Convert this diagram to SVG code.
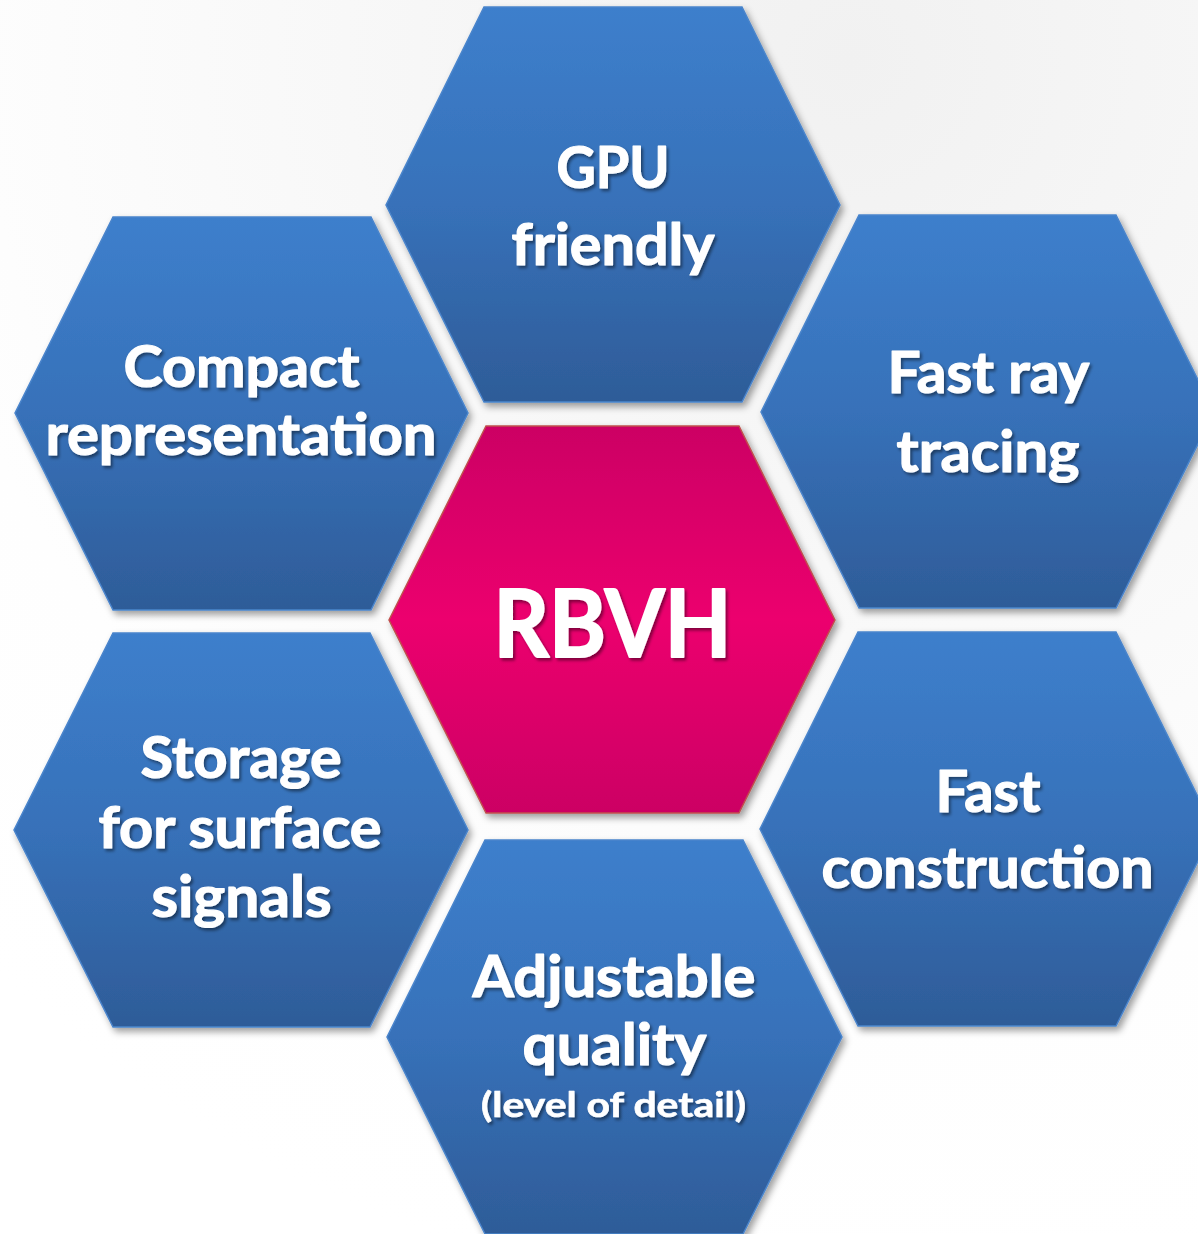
<svg xmlns="http://www.w3.org/2000/svg" width="1198" height="1234" viewBox="0 0 1198 1234">
  <defs>
    <radialGradient id="bg" cx="850" cy="60" r="1250" gradientUnits="userSpaceOnUse">
      <stop offset="0" stop-color="#f1f1f1"/>
      <stop offset="0.75" stop-color="#fefefe"/>
      <stop offset="1" stop-color="#ffffff"/>
    </radialGradient>
    <linearGradient id="blue" x1="0" y1="0" x2="0" y2="1">
      <stop offset="0" stop-color="#3d7fcc"/>
      <stop offset="0.5" stop-color="#3771b9"/>
      <stop offset="1" stop-color="#2e5c98"/>
    </linearGradient>
    <linearGradient id="pink" x1="0" y1="0" x2="0" y2="1">
      <stop offset="0" stop-color="#cc0064"/>
      <stop offset="0.5" stop-color="#ec006e"/>
      <stop offset="1" stop-color="#cc0064"/>
    </linearGradient>
    <filter id="shadow" x="-10%" y="-10%" width="125%" height="125%">
      <feDropShadow dx="3" dy="4" stdDeviation="3.5" flood-color="#000" flood-opacity="0.38"/>
    </filter>
    <filter id="tshadow" x="-10%" y="-20%" width="120%" height="150%">
      <feDropShadow dx="2" dy="2.5" stdDeviation="1.5" flood-color="#000" flood-opacity="0.45"/>
    </filter>
  </defs>
  <style>
    .hex { fill: url(#blue); stroke: #4a85cc; stroke-width: 1.5; filter: url(#shadow); }
    .center { fill: url(#pink); stroke: #c0504d; stroke-width: 1.5; filter: url(#shadow); }
    .lbl { font-family: Lato, "Open Sans", "Liberation Sans", sans-serif; font-weight: bold; fill: #ffffff; stroke: #ffffff; stroke-width: 1.2px; stroke-linejoin: round; text-anchor: middle; font-size: 58px; filter: url(#tshadow); }
    .big { font-size: 94px; stroke-width: 2px; }
    .small { font-size: 34px; stroke-width: 0.6px; }
  </style>
  <rect x="0" y="0" width="1198" height="1234" fill="url(#bg)"/>
  <g id="connectors"/>
  <g id="node-gpu">
    <polygon class="hex" points="484,7 742,7 840,205 742,402 484,402 386,205"/>
    <text class="lbl" x="613" y="188" textLength="113" lengthAdjust="spacingAndGlyphs">GPU</text>
    <text class="lbl" x="613" y="265" textLength="203" lengthAdjust="spacingAndGlyphs">friendly</text>
  </g>
  <g id="node-compact">
    <polygon class="hex" points="113,217 371,217 468,413 371,610 113,610 15,413"/>
    <text class="lbl" x="241.5" y="387" textLength="236" lengthAdjust="spacingAndGlyphs">Compact</text>
    <text class="lbl" x="241" y="455" textLength="391" lengthAdjust="spacingAndGlyphs">representation</text>
  </g>
  <g id="node-fastray">
    <polygon class="hex" points="859,215 1116,215 1214,412 1116,608 859,608 761,412"/>
    <text class="lbl" x="988.5" y="393" textLength="202" lengthAdjust="spacingAndGlyphs">Fast ray</text>
    <text class="lbl" x="988" y="472" textLength="183" lengthAdjust="spacingAndGlyphs">tracing</text>
  </g>
  <g id="node-storage">
    <polygon class="hex" points="113,633 370,633 468,830 370,1027 113,1027 14,830"/>
    <text class="lbl" x="241" y="778" textLength="201" lengthAdjust="spacingAndGlyphs">Storage</text>
    <text class="lbl" x="240" y="848" textLength="283" lengthAdjust="spacingAndGlyphs">for surface</text>
    <text class="lbl" x="241.5" y="917" textLength="180" lengthAdjust="spacingAndGlyphs">signals</text>
  </g>
  <g id="node-fastconstruction">
    <polygon class="hex" points="858,632 1116,632 1214,829 1116,1026 858,1026 760,829"/>
    <text class="lbl" x="988" y="812" textLength="105" lengthAdjust="spacingAndGlyphs">Fast</text>
    <text class="lbl" x="987.5" y="888" textLength="332" lengthAdjust="spacingAndGlyphs">construction</text>
  </g>
  <g id="node-adjustable">
    <polygon class="hex" points="485,840 743,840 842,1037 743,1234 485,1234 387,1037"/>
    <text class="lbl" x="614" y="997" textLength="283" lengthAdjust="spacingAndGlyphs">Adjustable</text>
    <text class="lbl" x="614.5" y="1065" textLength="184" lengthAdjust="spacingAndGlyphs">quality</text>
    <text class="lbl small" x="613.5" y="1117" textLength="265" lengthAdjust="spacingAndGlyphs">(level of detail)</text>
  </g>
  <g id="node-rbvh">
    <polygon class="center" points="486,426 739,426 835,620 739,813 486,813 389,620"/>
    <text class="lbl big" x="612.5" y="657" textLength="238" lengthAdjust="spacingAndGlyphs">RBVH</text>
  </g>
</svg>
